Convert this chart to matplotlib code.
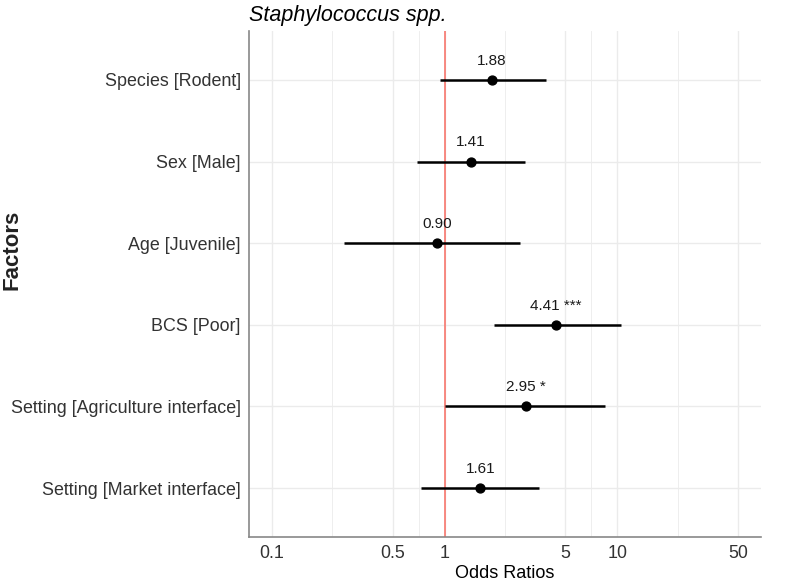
import matplotlib.pyplot as plt
import numpy as np
from matplotlib.ticker import FixedLocator, NullFormatter

plt.rcParams["font.family"] = ["Liberation Sans", "DejaVu Sans"]

factors = [
    "Species [Rodent]",
    "Sex [Male]",
    "Age [Juvenile]",
    "BCS [Poor]",
    "Setting [Agriculture interface]",
    "Setting [Market interface]",
]
odds = [1.88, 1.41, 0.90, 4.41, 2.95, 1.61]
ci_low = [0.94, 0.69, 0.26, 1.92, 1.00, 0.73]
ci_high = [3.87, 2.93, 2.71, 10.46, 8.49, 3.53]
stars = ["", "", "", " ***", " *", ""]

fig = plt.figure(figsize=(7.94, 5.81), dpi=100)
ax = fig.add_axes([0.3136, 0.0757, 0.6448, 0.8709])

ypos = np.arange(len(factors))[::-1] + 1

ax.set_xscale("log")
ax.set_xlim(0.0736, 67.7)
ax.set_ylim(0.4, len(factors) + 0.6)

# grid
major = [0.1, 0.5, 1, 5, 10, 50]
minor = [0.2236, 0.7071, 2.236, 7.071, 22.36]
ax.xaxis.set_major_locator(FixedLocator(major))
ax.xaxis.set_minor_locator(FixedLocator(minor))
ax.xaxis.set_minor_formatter(NullFormatter())
ax.set_xticklabels(["0.1", "0.5", "1", "5", "10", "50"])
ax.set_yticks(ypos)
ax.set_yticklabels(factors)
ax.grid(True, which="major", color="#ebebeb", lw=1.0)
ax.grid(True, which="minor", axis="x", color="#ebebeb", lw=0.6)
ax.set_axisbelow(True)
ax.tick_params(which="both", length=0, labelsize=12.9, colors="#333333", pad=6)

ax.axvline(1, color="#f8766d", lw=1.2, zorder=2)

for y, o, lo, hi, s in zip(ypos, odds, ci_low, ci_high, stars):
    ax.plot([lo, hi], [y, y], color="black", lw=1.8, zorder=3, solid_capstyle="butt")
    ax.plot(o, y, "o", color="black", ms=6.4, zorder=4)
    ax.text(o, y + 0.15, f"{o:.2f}{s}", ha="center", va="bottom", fontsize=11, color="#1a1a1a")

for side in ["top", "right"]:
    ax.spines[side].set_visible(False)
for side in ["left", "bottom"]:
    ax.spines[side].set_color("#888888")
    ax.spines[side].set_linewidth(1.2)

ax.set_xlabel("Odds Ratios", fontsize=13, labelpad=2)
fig.text(0.0145, 0.5697, "Factors", rotation=90, ha="center", va="center",
         fontsize=16, fontweight="bold", color="#222222")
ax.set_title("Staphylococcus spp.", fontsize=15.5, style="italic", loc="left", pad=7)

fig.savefig("out.png", dpi=100)
